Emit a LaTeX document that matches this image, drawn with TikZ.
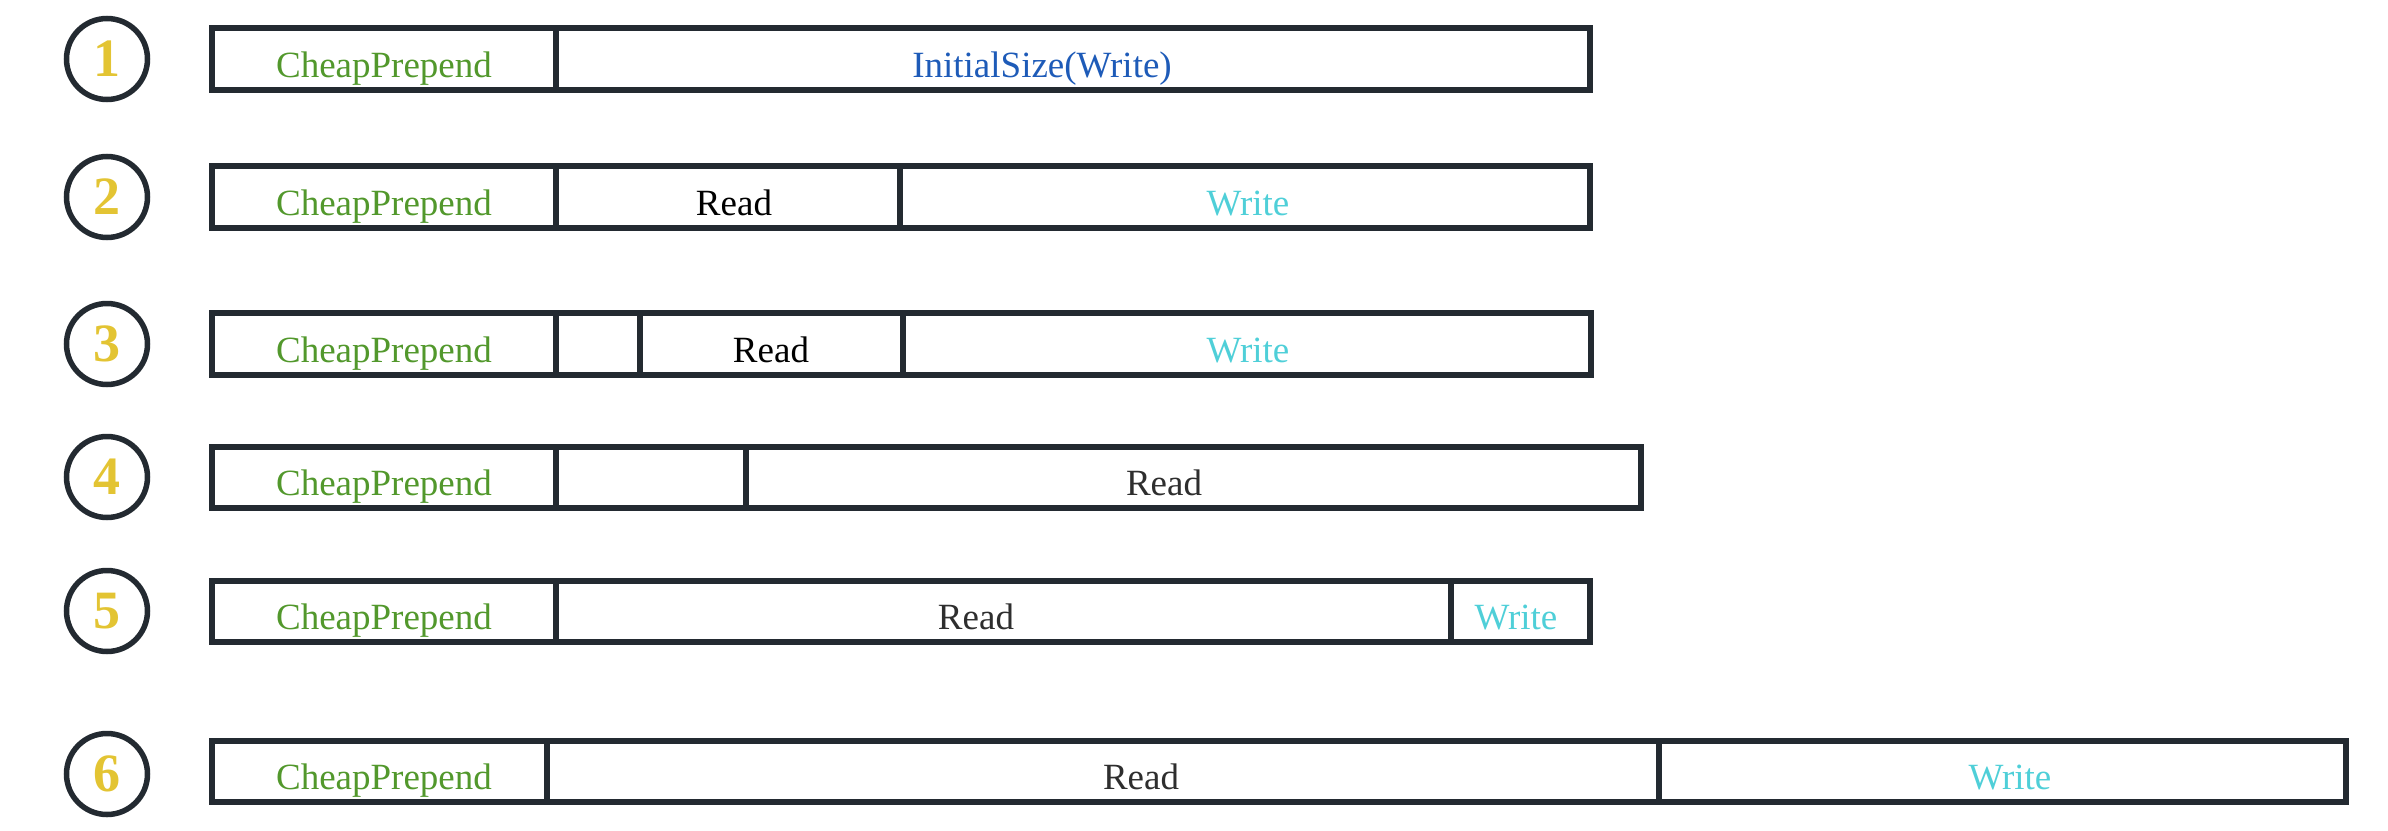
\documentclass[tikz,border=0pt]{standalone}
\usepackage{fontspec}
\setmainfont{Liberation Serif}
\definecolor{dark}{HTML}{232A31}
\definecolor{cpgreen}{HTML}{52982C}
\definecolor{gold}{HTML}{E3C433}
\definecolor{isblue}{HTML}{1E5BB8}
\definecolor{wcyan}{HTML}{4FCFD8}
\definecolor{rgray}{HTML}{2E2E2E}
\begin{document}
\begin{tikzpicture}[x=1pt,y=-1pt,
  cellbox/.style={draw=dark,line width=6pt},
  numcirc/.style={circle,draw=dark,line width=5.5pt,minimum size=81pt,inner sep=0pt,
    text=gold,font=\fontsize{54}{58}\selectfont\bfseries},
  lbl/.style={anchor=base,inner sep=0pt,font=\fontsize{37}{40}\selectfont},
  cp/.style={lbl,text=cpgreen},
  wr/.style={lbl,text=wcyan},
  rd/.style={lbl,text=black},
  rdg/.style={lbl,text=rgray}]
\useasboundingbox (0,0) rectangle (2388,830);
% row 1
\node[numcirc] (c1) at (107,59) {1};
\draw[cellbox] (212,28) rectangle (1590,90);
\draw[cellbox] (556,28) -- (556,90);
\node[cp] (p1) at (384,77) {CheapPrepend};
\node[lbl,text=isblue] (i1) at (1042,77) {InitialSize(Write)};
% row 2
\node[numcirc] (c2) at (107,197) {2};
\draw[cellbox] (212,166) rectangle (1590,228);
\draw[cellbox] (556,166) -- (556,228);
\draw[cellbox] (900,166) -- (900,228);
\node[cp] (p2) at (384,215) {CheapPrepend};
\node[rd] (r2) at (734,215) {Read};
\node[wr] (w2) at (1248,215) {Write};
% row 3
\node[numcirc] (c3) at (107,344) {3};
\draw[cellbox] (212,313) rectangle (1591,375);
\draw[cellbox] (556,313) -- (556,375);
\draw[cellbox] (640,313) -- (640,375);
\draw[cellbox] (903,313) -- (903,375);
\node[cp] (p3) at (384,362) {CheapPrepend};
\node[rd] (r3) at (771,362) {Read};
\node[wr] (w3) at (1248,362) {Write};
% row 4
\node[numcirc] (c4) at (107,477) {4};
\draw[cellbox] (212,447) rectangle (1641,508);
\draw[cellbox] (556,447) -- (556,508);
\draw[cellbox] (746,447) -- (746,508);
\node[cp] (p4) at (384,495) {CheapPrepend};
\node[rdg] (r4) at (1164,495) {Read};
% row 5
\node[numcirc] (c5) at (107,611) {5};
\draw[cellbox] (212,581) rectangle (1590,642);
\draw[cellbox] (556,581) -- (556,642);
\draw[cellbox] (1451,581) -- (1451,642);
\node[cp] (p5) at (384,629) {CheapPrepend};
\node[rdg] (r5) at (976,629) {Read};
\node[wr] (w5) at (1516,629) {Write};
% row 6
\node[numcirc] (c6) at (107,774) {6};
\draw[cellbox] (212,741) rectangle (2346,802);
\draw[cellbox] (547,741) -- (547,802);
\draw[cellbox] (1659,741) -- (1659,802);
\node[cp] (p6) at (384,789) {CheapPrepend};
\node[rdg] (r6) at (1141,789) {Read};
\node[wr] (w6) at (2010,789) {Write};
\end{tikzpicture}
\end{document}
